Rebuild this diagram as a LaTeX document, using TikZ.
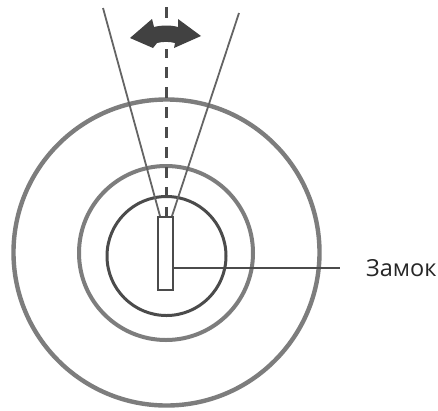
\documentclass[tikz,border=0pt]{standalone}
\usepackage{fontspec}
\setmainfont{Open Sans}
\definecolor{ringc}{RGB}{125,125,125}
\definecolor{darkc}{RGB}{75,75,75}
\definecolor{linec}{RGB}{100,100,100}
\definecolor{arrowc}{RGB}{65,65,65}
\begin{document}
\begin{tikzpicture}[x=1pt,y=-1pt,
  ring/.style={draw=ringc,line width=4.4pt,fill=none},
  midring/.style={draw=ringc,line width=4pt,fill=none},
  inring/.style={draw=darkc,line width=3pt,fill=none},
  thin line/.style={draw=linec,line width=1.8pt},
  dashline/.style={draw=darkc,line width=3pt,dash pattern=on 11pt off 9pt},
  slot/.style={draw=darkc,line width=2.2pt,fill=white,minimum width=15pt,minimum height=73pt,inner sep=0pt,outer sep=0pt},
  label/.style={font=\fontsize{23.5}{28}\selectfont,text=black!85,inner sep=0pt,anchor=west}]
\useasboundingbox (0,0) rectangle (438,410);
\fill[white] (0,0) rectangle (438,410);
\node[circle,ring,minimum size=306pt,inner sep=0pt] (outer) at (166.5,252.5) {};
\node[circle,midring,minimum size=174pt,inner sep=0pt] (middle) at (166,253) {};
\node[circle,inring,minimum size=119pt,inner sep=0pt] (inner) at (166.5,256) {};
\coordinate (lefttop) at (103,8);
\coordinate (righttop) at (239,13);
\coordinate (dashtop) at (166,7);
\coordinate (leftbot) at (160,216);
\coordinate (rightbot) at (172,216);
\draw[thin line] (lefttop) -- (leftbot);
\draw[thin line] (righttop) -- (rightbot);
\draw[dashline] (dashtop) -- (166,217);
\fill[white] (150,28) rectangle (184,49);
\fill[arrowc] (130,38) -- (152,19) -- (154,27) .. controls (162,25) and (171,25) .. (178,27)
  -- (178,19) -- (201,36) -- (174,48) -- (175,43) .. controls (170,41.5) and (162,41.5) .. (157,43)
  -- (153,48) -- cycle;
\node[slot] (lock) at (165.5,253.5) {};
\node[label] (lbl) at (366,268) {Замок};
\coordinate (leaderend) at (340,268);
\draw[draw=darkc,line width=2pt] (lock.east |- leaderend) -- (leaderend);
\end{tikzpicture}
\end{document}
